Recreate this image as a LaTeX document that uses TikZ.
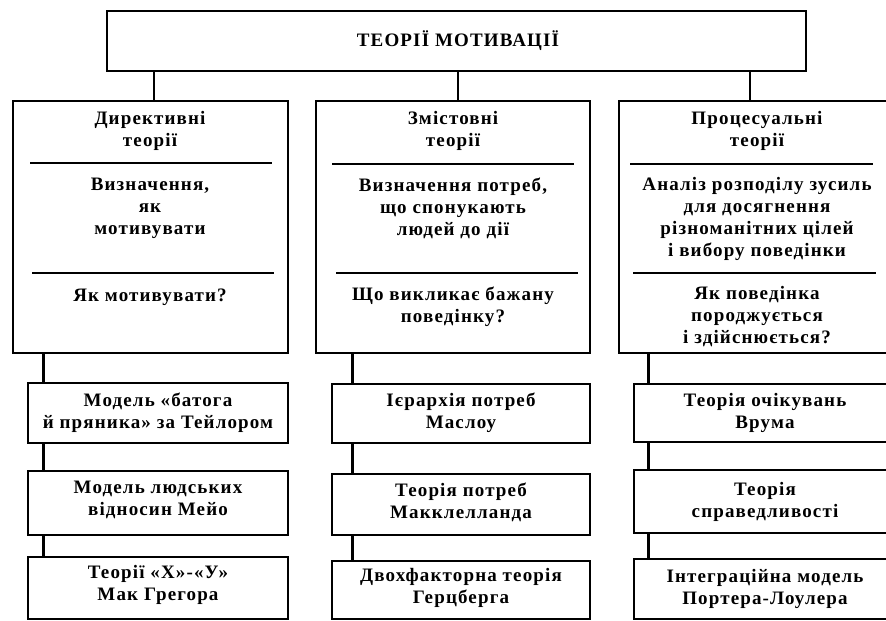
\documentclass[tikz,border=0pt]{standalone}
\usepackage{fontspec}
\setmainfont[LetterSpace=6]{Liberation Serif}
\begin{document}
\begin{tikzpicture}[x=1pt,y=-1pt,
  box/.style={draw, line width=2.8pt, rectangle, inner sep=0pt},
  txt/.style={font=\fontsize{19}{22}\selectfont\bfseries, align=center, inner sep=0pt},
  sepline/.style={line width=2.9pt},
  conn/.style={line width=2.5pt}]
\clip (0,0) rectangle (886,621);
\fill[white] (0,0) rectangle (886,621);
% top
\node[box, minimum width=699pt, minimum height=60pt] (T) at (456.5,41) {};
\node[txt] (Tt) at (458,41) {ТЕОРІЇ МОТИВАЦІЇ};
% big boxes
\node[box, minimum width=275pt, minimum height=252pt] (L) at (150.5,227) {};
\node[box, minimum width=274pt, minimum height=252pt] (M) at (453,227) {};
\node[box, minimum width=271pt, minimum height=252pt] (R) at (754.5,227) {};
% separators
\draw[sepline] (30,163) -- (272,163);
\draw[sepline] (32,273) -- (274,273);
\draw[sepline] (332,164) -- (574,164);
\draw[sepline] (336,273) -- (578,273);
\draw[sepline] (630,164) -- (873,164);
\draw[sepline] (633,273) -- (876,273);
% big box texts
\node[txt] (Lh) at (150,131) {Директивні\\теорії};
\node[txt] (Ld) at (150,208) {Визначення,\\як\\мотивувати};
\node[txt] (Lq) at (150,297) {Як мотивувати?};
\node[txt] (Mh) at (453,131) {Змістовні\\теорії};
\node[txt] (Md) at (453,208) {Визначення потреб,\\що спонукають\\людей до дії};
\node[txt] (Mq) at (453,307) {Що викликає бажану\\поведінку?};
\node[txt] (Rh) at (757,131) {Процесуальні\\теорії};
\node[txt] (Rd) at (757,219) {Аналіз розподілу зусиль\\для досягнення\\різноманітних цілей\\і вибору поведінки};
\node[txt] (Rq) at (757,317) {Як поведінка\\породжується\\і здійснюється?};
% small boxes
\node[box, minimum width=260pt, minimum height=60pt] (L1) at (158,413) {};
\node[box, minimum width=260pt, minimum height=64pt] (L2) at (158,503) {};
\node[box, minimum width=260pt, minimum height=62pt] (L3) at (158,588) {};
\node[box, minimum width=258pt, minimum height=59pt] (M1) at (461,413.5) {};
\node[box, minimum width=258pt, minimum height=61pt] (M2) at (461,504.5) {};
\node[box, minimum width=258pt, minimum height=58pt] (M3) at (461,590) {};
\node[box, minimum width=261pt, minimum height=58pt] (R1) at (764.5,413) {};
\node[box, minimum width=261pt, minimum height=63pt] (R2) at (764.5,501.5) {};
\node[box, minimum width=261pt, minimum height=60pt] (R3) at (764.5,589) {};
% small texts
\node[txt] (L1t) at (158,413) {Модель «батога\\й пряника» за Тейлором};
\node[txt] (L2t) at (158,500) {Модель людських\\відносин Мейо};
\node[txt] (L3t) at (158,585) {Теорії «Х»-«У»\\Мак Грегора};
\node[txt] (M1t) at (461,413) {Ієрархія потреб\\Маслоу};
\node[txt] (M2t) at (461,502) {Теорія потреб\\Макклелланда};
\node[txt] (M3t) at (461,588) {Двохфакторна теорія\\Герцберга};
\node[txt] (R1t) at (765,413) {Теорія очікувань\\Врума};
\node[txt] (R2t) at (765,502) {Теорія\\справедливості};
\node[txt] (R3t) at (765,589) {Інтеграційна модель\\Портера-Лоулера};
% connectors from top
\draw[conn] ([xshift=3.5pt]L.north) -- ([xshift=3.5pt]L.north |- T.south);
\draw[conn] ([xshift=5pt]M.north) -- ([xshift=5pt]M.north |- T.south);
\draw[conn] ([xshift=-4.5pt]R.north) -- ([xshift=-4.5pt]R.north |- T.south);
% column connectors
\draw[conn] ([xshift=17pt]L1.north west) -- ([xshift=17pt]L1.north west |- L.south);
\draw[conn] ([xshift=17pt]L2.north west) -- ([xshift=17pt]L2.north west |- L1.south);
\draw[conn] ([xshift=17pt]L3.north west) -- ([xshift=17pt]L3.north west |- L2.south);
\draw[conn] ([xshift=22pt]M1.north west) -- ([xshift=22pt]M1.north west |- M.south);
\draw[conn] ([xshift=22pt]M2.north west) -- ([xshift=22pt]M2.north west |- M1.south);
\draw[conn] ([xshift=22pt]M3.north west) -- ([xshift=22pt]M3.north west |- M2.south);
\draw[conn] ([xshift=16pt]R1.north west) -- ([xshift=16pt]R1.north west |- R.south);
\draw[conn] ([xshift=16pt]R2.north west) -- ([xshift=16pt]R2.north west |- R1.south);
\draw[conn] ([xshift=16pt]R3.north west) -- ([xshift=16pt]R3.north west |- R2.south);
\end{tikzpicture}
\end{document}
